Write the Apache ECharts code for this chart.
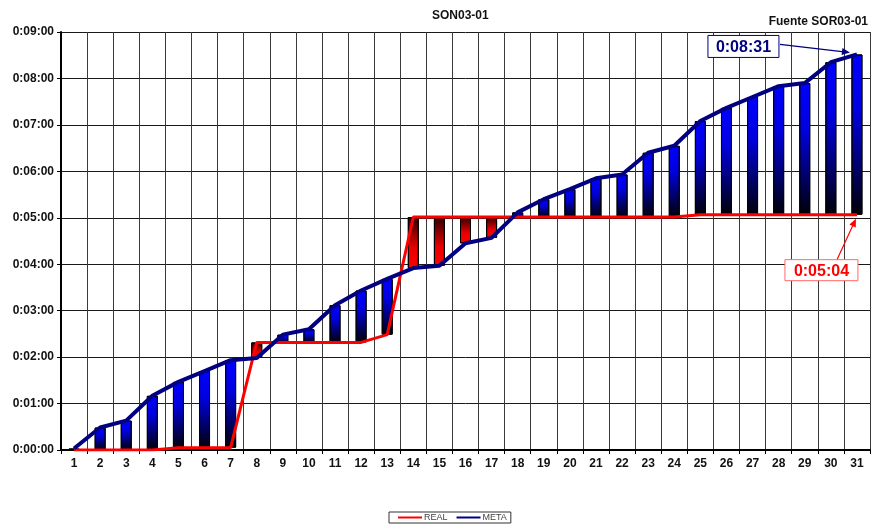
<!DOCTYPE html>
<html>
<head>
<meta charset="utf-8">
<script src="https://cdn.jsdelivr.net/npm/echarts@6/dist/echarts.min.js"></script>
<style>
  html, body { margin: 0; padding: 0; background: #fff; }
  #chart { width: 876px; height: 529px; }
</style>
</head>
<body>
<div id="chart"></div>
<script>
// Days of the month
const days = ['1','2','3','4','5','6','7','8','9','10','11','12','13','14','15','16','17','18','19','20','21','22','23','24','25','26','27','28','29','30','31'];
// Cumulative time in seconds
const meta = [2, 29, 38, 70, 88, 102, 116, 119, 149, 156, 187, 206, 221, 235, 238, 267, 274, 307, 324, 337, 351, 356, 384, 393, 425, 442, 456, 470, 474, 501, 511];
const real = [0, 0, 0, 0, 3, 3, 3, 139, 139, 139, 139, 139, 149, 301, 301, 301, 301, 301, 301, 301, 301, 301, 301, 301, 304, 304, 304, 304, 304, 304, 304];
// Y axis range in seconds
const yMax = 540;
const yStep = 60;

const FONT = "'Liberation Sans', Arial, sans-serif";

function fmtTime(s) {
  const h = Math.floor(s / 3600);
  const m = Math.floor((s % 3600) / 60);
  const sec = Math.round(s % 60);
  return h + ':' + String(m).padStart(2, '0') + ':' + String(sec).padStart(2, '0');
}

const blueGrad = {
  type: 'linear', x: 0, y: 0, x2: 0, y2: 1,
  colorStops: [{ offset: 0, color: '#0000ff' }, { offset: 0.35, color: '#0000e0' }, { offset: 1, color: '#000008' }]
};
const redGrad = {
  type: 'linear', x: 0, y: 0, x2: 0, y2: 1,
  colorStops: [{ offset: 0, color: '#2a0000' }, { offset: 0.6, color: '#e80000' }, { offset: 1, color: '#ff0000' }]
};

// Up/down bars between the two lines
const baseData = days.map((d, i) => Math.min(real[i], meta[i]));
const diffData = days.map((d, i) => ({
  value: Math.abs(meta[i] - real[i]),
  itemStyle: { color: meta[i] >= real[i] ? blueGrad : redGrad }
}));

const chart = echarts.init(document.getElementById('chart'), null, { renderer: 'canvas' });

chart.setOption({
  animation: false,
  backgroundColor: '#ffffff',
  textStyle: { fontFamily: FONT },
  title: [
    { text: 'SON03-01', left: 427, top: 5,
      textStyle: { fontSize: 12, fontWeight: 'bold', color: '#111', fontFamily: FONT } },
    { text: 'Fuente SOR03-01', right: 3, top: 11,
      textStyle: { fontSize: 12, fontWeight: 'bold', color: '#111', fontFamily: FONT } }
  ],
  legend: {
    data: [
      { name: 'REAL', icon: 'rect' },
      { name: 'META', icon: 'rect' }
    ],
    left: 389, top: 512,
    itemWidth: 24, itemHeight: 2, itemGap: 9,
    padding: [1, 4, 1, 9],
    borderColor: '#333', borderWidth: 1,
    textStyle: { fontSize: 9, color: '#444', fontFamily: FONT, padding: [0, 0, 0, -3] }
  },
  grid: { left: 61, right: 6, top: 32, bottom: 79, containLabel: false },
  xAxis: {
    type: 'category',
    data: days,
    boundaryGap: true,
    axisLine: { lineStyle: { color: '#000', width: 2 } },
    axisTick: { show: true, length: 4, lineStyle: { color: '#000' } },
    axisLabel: { margin: 8, fontSize: 12, fontWeight: 'bold', color: '#111', fontFamily: FONT },
    splitLine: { show: true, lineStyle: { color: '#3a3a3a', width: 1 } }
  },
  yAxis: {
    type: 'value',
    min: 0, max: yMax, interval: yStep,
    axisLine: { show: true, lineStyle: { color: '#000', width: 2 } },
    axisTick: { show: true, length: 4, lineStyle: { color: '#000' } },
    axisLabel: { margin: 7, fontSize: 12, fontWeight: 'bold', color: '#111', fontFamily: FONT,
      formatter: v => fmtTime(v) },
    splitLine: { show: true, lineStyle: { color: '#1a1a1a', width: 1 } }
  },
  series: [
    {
      name: 'base', type: 'bar', stack: 'ud', barWidth: 11, silent: true,
      itemStyle: { color: 'rgba(0,0,0,0)', borderWidth: 0 },
      data: baseData, z: 2
    },
    {
      name: 'diff', type: 'bar', stack: 'ud', barWidth: 11, silent: true,
      itemStyle: { borderColor: '#000', borderWidth: 1 },
      data: diffData, z: 2
    },
    {
      name: 'REAL', type: 'line', data: real, symbol: 'none', z: 3,
      itemStyle: { color: '#ff0000' },
      lineStyle: { color: '#ff0000', width: 3 }
    },
    {
      name: 'META', type: 'line', data: meta, symbol: 'none', z: 4,
      itemStyle: { color: '#000080' },
      lineStyle: { color: '#000080', width: 4 }
    }
  ]
});

// Callouts for the last day's values
function arrow(x1, y1, x2, y2, color) {
  const ang = Math.atan2(y2 - y1, x2 - x1);
  const L = 8, W = 3.5;
  const bx = x2 - L * Math.cos(ang), by = y2 - L * Math.sin(ang);
  const px = -Math.sin(ang) * W, py = Math.cos(ang) * W;
  return [
    { type: 'line', shape: { x1: x1, y1: y1, x2: bx, y2: by }, style: { stroke: color, lineWidth: 1.2 }, z: 20 },
    { type: 'polygon', shape: { points: [[x2, y2], [bx + px, by + py], [bx - px, by - py]] }, style: { fill: color }, z: 20 }
  ];
}

function callout(px, py, dx, dy, w, h, text, textColor, borderColor) {
  const x = px + dx, y = py + dy;
  return [
    { type: 'rect', shape: { x: x, y: y, width: w, height: h },
      style: { fill: '#fff', stroke: borderColor, lineWidth: 1 }, z: 21 },
    { type: 'text', x: x + w / 2, y: y + h / 2 + 1, z: 22,
      style: { text: text, fill: textColor, font: 'bold 16px ' + FONT, align: 'center', verticalAlign: 'middle' } }
  ];
}

const last = days.length - 1;
const pMeta = chart.convertToPixel({ seriesIndex: 3 }, [last, meta[last]]);
const pReal = chart.convertToPixel({ seriesIndex: 2 }, [last, real[last]]);

const graphics = []
  .concat(arrow(pMeta[0] - 77, pMeta[1] - 10, pMeta[0] - 7, pMeta[1] - 2, '#000080'))
  .concat(callout(pMeta[0], pMeta[1], -149, -19, 71, 22, fmtTime(meta[last]), '#000080', '#000080'))
  .concat(arrow(pReal[0] - 20, pReal[1] + 45, pReal[0] - 1, pReal[1] + 4, '#ff0000'))
  .concat(callout(pReal[0], pReal[1], -72, 45, 73, 21, fmtTime(real[last]), '#ff0000', '#ff6a6a'));

chart.setOption({ graphic: graphics });
</script>
</body>
</html>
